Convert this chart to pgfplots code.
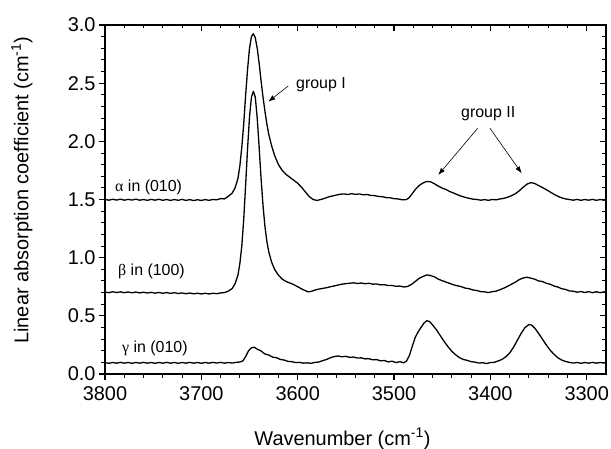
\documentclass[border=0pt]{standalone}
\usepackage{fontspec}
\setmainfont{Liberation Sans}
\newfontfamily\grk{Liberation Serif}
\usepackage{pgfplots}
\pgfplotsset{compat=1.18}
\usepackage{pgfplotstable}
\usetikzlibrary{arrows.meta}

\pgfplotstableread{
x y
3800 1.500
3796 1.494
3792 1.502
3788 1.495
3784 1.503
3780 1.494
3776 1.501
3772 1.495
3768 1.503
3764 1.494
3760 1.500
3756 1.493
3752 1.501
3748 1.494
3744 1.502
3740 1.493
3736 1.500
3732 1.492
3728 1.500
3724 1.493
3720 1.501
3716 1.492
3712 1.499
3708 1.491
3704 1.498
3700 1.492
3696 1.499
3692 1.493
3688 1.500
3684 1.497
3680 1.508
3676 1.505
3672 1.528
3668 1.555
3665 1.600
3662 1.680
3660 1.790
3658 1.950
3656 2.150
3654 2.400
3652 2.620
3650 2.800
3648 2.900
3646 2.925
3644 2.890
3642 2.800
3640 2.670
3638 2.520
3636 2.380
3634 2.260
3632 2.150
3630 2.060
3627 1.960
3624 1.880
3620 1.800
3616 1.750
3612 1.715
3608 1.690
3604 1.665
3600 1.640
3596 1.605
3592 1.565
3588 1.525
3584 1.500
3580 1.492
3576 1.500
3572 1.510
3568 1.522
3564 1.530
3560 1.538
3556 1.545
3552 1.548
3548 1.543
3544 1.550
3540 1.544
3536 1.548
3532 1.540
3528 1.543
3524 1.535
3520 1.533
3516 1.526
3512 1.524
3508 1.516
3504 1.515
3500 1.507
3496 1.505
3492 1.498
3488 1.497
3485 1.510
3482 1.540
3478 1.585
3474 1.620
3470 1.642
3466 1.655
3462 1.652
3458 1.635
3454 1.615
3450 1.598
3446 1.585
3442 1.568
3438 1.555
3434 1.540
3430 1.528
3426 1.518
3422 1.510
3418 1.503
3414 1.500
3410 1.494
3406 1.499
3402 1.493
3398 1.500
3394 1.497
3390 1.505
3386 1.510
3382 1.520
3378 1.533
3374 1.550
3370 1.575
3366 1.605
3362 1.632
3358 1.645
3354 1.638
3350 1.620
3346 1.603
3342 1.585
3338 1.565
3334 1.545
3330 1.528
3326 1.514
3322 1.505
3318 1.500
3314 1.494
3310 1.501
3306 1.493
3302 1.500
3298 1.494
3294 1.501
3290 1.493
3286 1.500
3282 1.494
3280 1.498
}\alphadata

\pgfplotstableread{
x y
3800 0.705
3796 0.699
3792 0.707
3788 0.700
3784 0.706
3780 0.699
3776 0.705
3772 0.698
3768 0.704
3764 0.697
3760 0.703
3756 0.696
3752 0.702
3748 0.695
3744 0.701
3740 0.694
3736 0.700
3732 0.693
3728 0.699
3724 0.692
3720 0.697
3716 0.690
3712 0.696
3708 0.689
3704 0.694
3700 0.688
3696 0.694
3692 0.688
3688 0.694
3684 0.690
3680 0.697
3676 0.700
3672 0.712
3668 0.735
3665 0.775
3662 0.850
3660 0.950
3658 1.100
3656 1.330
3654 1.630
3652 1.940
3650 2.210
3648 2.380
3646 2.430
3644 2.380
3642 2.200
3640 1.950
3638 1.680
3636 1.450
3634 1.270
3632 1.140
3630 1.050
3627 0.960
3624 0.900
3620 0.850
3616 0.815
3612 0.795
3608 0.782
3604 0.768
3600 0.750
3596 0.732
3592 0.716
3589 0.706
3586 0.710
3582 0.722
3578 0.730
3574 0.736
3570 0.742
3566 0.750
3562 0.757
3558 0.765
3554 0.772
3550 0.777
3546 0.780
3542 0.784
3538 0.778
3534 0.782
3530 0.776
3526 0.780
3522 0.772
3518 0.774
3514 0.766
3510 0.768
3506 0.760
3502 0.761
3498 0.754
3494 0.756
3490 0.748
3486 0.752
3482 0.770
3478 0.795
3474 0.822
3470 0.838
3466 0.852
3462 0.846
3458 0.835
3454 0.815
3450 0.802
3446 0.790
3442 0.778
3438 0.766
3434 0.758
3430 0.750
3426 0.738
3422 0.733
3418 0.722
3414 0.718
3410 0.708
3406 0.706
3402 0.700
3398 0.708
3394 0.712
3390 0.725
3386 0.738
3382 0.755
3378 0.772
3374 0.790
3370 0.812
3366 0.825
3362 0.832
3358 0.824
3354 0.815
3350 0.800
3346 0.795
3342 0.780
3338 0.772
3334 0.756
3330 0.748
3326 0.733
3322 0.727
3318 0.714
3314 0.712
3310 0.703
3306 0.709
3302 0.700
3298 0.708
3294 0.699
3290 0.707
3286 0.699
3282 0.706
3280 0.702
}\betadata

\pgfplotstableread{
x y
3800 0.098
3796 0.092
3792 0.099
3788 0.093
3784 0.100
3780 0.093
3776 0.099
3772 0.092
3768 0.099
3764 0.093
3760 0.100
3756 0.093
3752 0.099
3748 0.092
3744 0.099
3740 0.093
3736 0.100
3732 0.093
3728 0.099
3724 0.092
3720 0.099
3716 0.093
3712 0.100
3708 0.093
3704 0.099
3700 0.092
3696 0.099
3692 0.093
3688 0.100
3684 0.094
3680 0.100
3676 0.093
3672 0.099
3668 0.094
3664 0.100
3660 0.103
3657 0.112
3654 0.150
3651 0.200
3648 0.225
3645 0.230
3642 0.214
3638 0.198
3634 0.172
3630 0.163
3626 0.145
3622 0.140
3618 0.125
3614 0.120
3610 0.108
3606 0.106
3602 0.098
3598 0.100
3594 0.093
3590 0.096
3586 0.092
3582 0.100
3578 0.103
3574 0.115
3570 0.125
3566 0.140
3562 0.150
3558 0.155
3554 0.148
3550 0.152
3546 0.143
3542 0.146
3538 0.137
3534 0.139
3530 0.130
3526 0.131
3522 0.122
3518 0.124
3514 0.113
3510 0.116
3506 0.104
3502 0.110
3498 0.098
3494 0.106
3490 0.096
3487 0.112
3484 0.160
3481 0.240
3478 0.315
3475 0.362
3472 0.400
3469 0.437
3466 0.458
3463 0.450
3460 0.422
3456 0.380
3452 0.330
3448 0.280
3444 0.235
3440 0.195
3436 0.165
3432 0.140
3428 0.125
3424 0.117
3420 0.106
3416 0.102
3412 0.094
3408 0.097
3404 0.090
3400 0.098
3396 0.100
3392 0.112
3388 0.125
3384 0.148
3380 0.180
3376 0.230
3372 0.290
3368 0.350
3364 0.400
3360 0.425
3357 0.420
3354 0.395
3350 0.350
3346 0.300
3342 0.250
3338 0.205
3334 0.170
3330 0.140
3326 0.120
3322 0.108
3318 0.100
3314 0.094
3310 0.099
3306 0.092
3302 0.099
3298 0.093
3294 0.100
3290 0.093
3286 0.099
3282 0.094
3280 0.097
}\gammadata

\pgfplotsset{
  common/.style={
    scale only axis, width=501bp, height=349bp,
    at={(0,0)}, anchor=south west,
    xmin=3280, xmax=3800, x dir=reverse,
    ymin=0, ymax=3,
    xtick={3300,3400,3500,3600,3700,3800},
    ytick={0,0.5,1,1.5,2,2.5,3},
    minor x tick num=4, minor y tick num=4,
    major tick length=6bp, minor tick length=3.5bp,
    axis line style={line width=1.5bp},
    every tick/.style={black, line width=1.2bp},
    every minor tick/.style={black, line width=0.9bp},
  }
}

\begin{document}
\begin{tikzpicture}
\begin{axis}[common,
  tick align=outside,
  xtick pos=left, ytick pos=left,
  /pgf/number format/assume math mode=true,
  /pgf/number format/.cd, fixed, fixed zerofill, precision=1, /pgfplots/.cd,
  xticklabel style={font=\fontsize{20}{24}\selectfont, yshift=-3bp,
    /pgf/number format/precision=0, /pgf/number format/1000 sep={}},
  yticklabel style={font=\fontsize{20}{24}\selectfont},
  xlabel={Wavenumber (cm\textsuperscript{-1})},
  ylabel={Linear absorption coefficient (cm\textsuperscript{-1})},
  every axis x label/.style={at={(axis description cs:0.474,-0.185)}, anchor=center, font=\fontsize{20}{24}\selectfont},
  every axis y label/.style={at={(axis description cs:-0.166,0.527)}, anchor=center, rotate=90, font=\fontsize{20}{24}\selectfont},
]
\addplot[black, line width=1.3bp, line join=round] table[x=x,y=y] {\alphadata};
\addplot[black, line width=1.3bp, line join=round] table[x=x,y=y] {\betadata};
\addplot[black, line width=1.3bp, line join=round] table[x=x,y=y] {\gammadata};

\node[anchor=west, inner sep=0, font=\fontsize{16}{19}\selectfont] at (axis cs:3789.6,1.60) {{\grk α} in (010)};
\node[anchor=west, inner sep=0, font=\fontsize{16}{19}\selectfont] at (axis cs:3786.5,0.88) {{\grk β} in (100)};
\node[anchor=west, inner sep=0, font=\fontsize{16}{19}\selectfont] at (axis cs:3782.4,0.22) {{\grk γ} in (010)};
\node[anchor=west, inner sep=0, font=\fontsize{16}{19}\selectfont] at (axis cs:3601.8,2.489) {group I};
\node[anchor=west, inner sep=0, font=\fontsize{16}{19}\selectfont] at (axis cs:3430.5,2.239) {group II};

\draw[-{Latex[length=7bp,width=5bp]}, line width=0.6bp] (axis cs:3609.8,2.476) -- (axis cs:3630.5,2.341);
\draw[-{Latex[length=7bp,width=5bp]}, line width=0.6bp] (axis cs:3413.2,2.112) -- (axis cs:3454.1,1.711);
\draw[-{Latex[length=7bp,width=5bp]}, line width=0.6bp] (axis cs:3400.4,2.112) -- (axis cs:3367.5,1.725);
\end{axis}
\begin{axis}[common,
  tick align=inside,
  xtick pos=right, ytick pos=right,
  xticklabels={}, yticklabels={},
]
\end{axis}
\pgfresetboundingbox
\useasboundingbox (-105bp,-75bp) rectangle (506bp,374bp);
\end{tikzpicture}
\end{document}
